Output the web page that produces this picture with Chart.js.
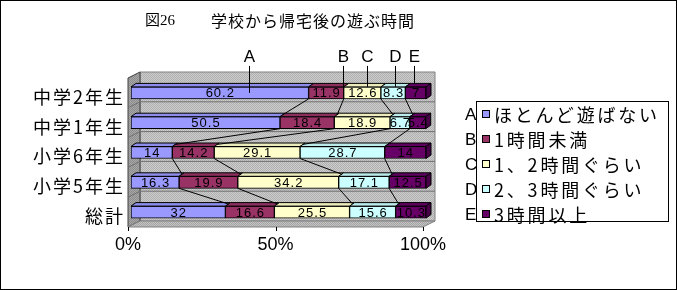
<!DOCTYPE html>
<html>
<head>
<meta charset="utf-8">
<script src="https://cdn.jsdelivr.net/npm/chart.js@4.4.1/dist/chart.umd.min.js"></script>
<style>
    body { margin: 0; background: #fff; }
    #wrap { position: relative; width: 677px; height: 290px; font-family: "Noto Sans CJK JP", sans-serif; color: #000; }
    #chart { position: absolute; left: 0; top: 0; }
    #frame { position: absolute; left: 0; top: 0; width: 677px; height: 290px; box-sizing: border-box; border: 1px solid #000; pointer-events: none; }
    .txt { position: absolute; white-space: nowrap; }
    #figNo { left: 145px; top: 10px; font: 15px/20px "Liberation Serif", "Noto Sans CJK JP"; }
    #title { left: 211px; top: 10px; font-size: 16px; line-height: 20px; letter-spacing: 1px; }
    #legend { position: absolute; left: 476px; top: 101px; width: 193px; height: 121px; box-sizing: border-box; border: 1px solid #000; }
    .item { position: absolute; left: 0; height: 25px; line-height: 25px; font-size: 18px; letter-spacing: 2.8px; white-space: nowrap; }
    .sw { position: absolute; left: 5px; top: 8px; width: 8px; height: 8px; border: 1px solid #000; box-sizing: border-box; }
    .item span { position: absolute; left: 17px; }
    .key { position: absolute; left: 465px; font: 17px/25px "Liberation Sans Narrow", "Liberation Sans", sans-serif; }
</style>
</head>
<body>
<div id="wrap">
    <canvas id="chart" width="677" height="290"></canvas>
    <div class="txt" id="figNo">図26</div>
    <div class="txt" id="title">学校から帰宅後の遊ぶ時間</div>
    <div id="legend"></div>
    <div id="keys"></div>
    <div id="frame"></div>
</div>
<script>
//Data
const categories = ['中学2年生', '中学1年生', '小学6年生', '小学5年生', '総計'];
const seriesNames = ['ほとんど遊ばない', '1時間未満', '1、2時間ぐらい', '2、3時間ぐらい', '3時間以上'];
const seriesKeys = ['A', 'B', 'C', 'D', 'E'];
const seriesColours = ['#9999ff', '#993366', '#ffffcc', '#ccffff', '#660066'];
const noPlay = [60.2, 50.5, 14, 16.3, 32];
const underOne = [11.9, 18.4, 14.2, 19.9, 16.6];
const oneTwo = [12.6, 18.9, 29.1, 34.2, 25.5];
const twoThree = [8.3, 6.7, 28.7, 17.1, 15.6];
const overThree = [7, 5.4, 14, 12.5, 10.3];
const xTicks = [0, 50, 100];

const seriesData = [noPlay, underOne, oneTwo, twoThree, overThree];

//3d look
const wall = {dx: 12, dy: -6};
const depth = {dx: 5, dy: -3.5};
const floorShift = -3;  //front edge of floor sits a bit left of the bars

function dotted(ctx, a, b) {
    let c = document.createElement('canvas');
    c.width = c.height = 2;
    let g = c.getContext('2d');
    g.fillStyle = a;
    g.fillRect(0, 0, 2, 2);
    g.fillStyle = b;
    g.fillRect(0, 0, 1, 1);
    g.fillRect(1, 1, 1, 1);
    return ctx.createPattern(c, 'repeat');
}

function poly(ctx, pts, fill, stroke) {
    ctx.beginPath();
    ctx.moveTo(pts[0][0], pts[0][1]);
    for (let i = 1; i < pts.length; i++) ctx.lineTo(pts[i][0], pts[i][1]);
    ctx.closePath();
    if (fill) { ctx.fillStyle = fill; ctx.fill(); }
    if (stroke) { ctx.strokeStyle = stroke; ctx.lineWidth = 1; ctx.stroke(); }
}

function shade(hex, f) {
    let n = parseInt(hex.slice(1), 16);
    return 'rgb(' + Math.round((n >> 16) * f) + ',' + Math.round(((n >> 8) & 255) * f) + ',' + Math.round((n & 255) * f) + ')';
}

function barBox(bar) {
    return {
        l: Math.min(bar.base, bar.x), r: Math.max(bar.base, bar.x),
        t: bar.y - bar.height / 2, b: bar.y + bar.height / 2
    };
}

const box3d = {
    id: 'box3d',
    beforeDraw(chart) {
        const {ctx, chartArea: a, scales: {x, y}} = chart;
        const fl = x.getPixelForValue(0) + floorShift, fr = x.getPixelForValue(100) + floorShift;
        const ft = a.top, fb = a.bottom;
        ctx.save();
        //back wall
        poly(ctx, [[fl + wall.dx, ft + wall.dy], [fr + wall.dx, ft + wall.dy], [fr + wall.dx, fb + wall.dy], [fl + wall.dx, fb + wall.dy]],
            dotted(ctx, '#cccccc', '#b0b0b0'), '#808080');
        //left wall
        poly(ctx, [[fl, ft], [fl + wall.dx, ft + wall.dy], [fl + wall.dx, fb + wall.dy], [fl, fb]],
            dotted(ctx, '#a8a8a8', '#8c8c8c'), '#404040');
        //floor
        poly(ctx, [[fl, fb], [fl + wall.dx, fb + wall.dy], [fr + wall.dx, fb + wall.dy], [fr, fb]],
            dotted(ctx, '#c4c4c4', '#a4a4a4'), '#808080');
        //category lines on the walls
        ctx.strokeStyle = '#707070';
        ctx.lineWidth = 1;
        for (let k = 1; k < categories.length; k++) {
            let yb = (y.getPixelForValue(k - 1) + y.getPixelForValue(k)) / 2;
            ctx.beginPath();
            ctx.moveTo(fl, yb);
            ctx.lineTo(fl + wall.dx, yb + wall.dy);
            ctx.lineTo(fr + wall.dx, yb + wall.dy);
            ctx.stroke();
        }
        //ticks under the floor
        ctx.strokeStyle = '#000';
        xTicks.forEach(v => {
            let px = Math.round(x.getPixelForValue(v) + floorShift) + 0.5;
            ctx.beginPath();
            ctx.moveTo(px, fb);
            ctx.lineTo(px, fb + 4);
            ctx.stroke();
        });
        ctx.restore();
    },
    afterDatasetsDraw(chart) {
        const ctx = chart.ctx;
        const sets = chart.data.datasets;
        const metas = sets.map((d, i) => chart.getDatasetMeta(i).data);
        ctx.save();
        //top and side faces
        metas.forEach((bars, i) => {
            bars.forEach(bar => {
                let q = barBox(bar);
                poly(ctx, [[q.l, q.t], [q.l + depth.dx, q.t + depth.dy], [q.r + depth.dx, q.t + depth.dy], [q.r, q.t]],
                    shade(sets[i].backgroundColor, 0.92), '#000');
                if (i === sets.length - 1)
                    poly(ctx, [[q.r, q.t], [q.r + depth.dx, q.t + depth.dy], [q.r + depth.dx, q.b + depth.dy], [q.r, q.b]],
                        shade(sets[i].backgroundColor, 0.7), '#000');
            });
        });
        //series lines between neighbouring bars
        ctx.strokeStyle = '#000';
        ctx.lineWidth = 1;
        for (let i = 0; i < sets.length - 1; i++) {
            for (let j = 0; j < categories.length - 1; j++) {
                let up = barBox(metas[i][j]), dn = barBox(metas[i][j + 1]);
                ctx.beginPath();
                ctx.moveTo(up.r, up.b);
                ctx.lineTo(dn.r + depth.dx * 0.6, dn.t + depth.dy * 0.6);
                ctx.stroke();
            }
        }
        //values
        ctx.fillStyle = '#000';
        ctx.font = '13px "Liberation Sans", sans-serif';
        ctx.letterSpacing = '1px';
        ctx.textAlign = 'center';
        ctx.textBaseline = 'middle';
        metas.forEach((bars, i) => {
            bars.forEach((bar, j) => {
                let q = barBox(bar);
                ctx.fillText(String(seriesData[i][j]), (q.l + q.r) / 2 + 0.5, bar.y + 1);
            });
        });
        //A-E pointers above the top bar
        const pointerAt = [40, 72, 80, 89.5, 96];
        const x = chart.scales.x;
        const top = barBox(metas[0][0]);
        ctx.letterSpacing = '0px';
        ctx.font = '17px "Liberation Sans Narrow", "Liberation Sans", sans-serif';
        seriesKeys.forEach((k, i) => {
            let px = Math.round(x.getPixelForValue(pointerAt[i])) + 0.5;
            ctx.fillText(k, px, top.t - 30);
            ctx.beginPath();
            ctx.moveTo(px, top.t - 21);
            ctx.lineTo(px, i === 0 ? metas[0][0].y : (i === 4 ? top.t + depth.dy : top.t));
            ctx.stroke();
        });
        ctx.restore();
    }
};

$legend = document.getElementById('legend');
$keys = document.getElementById('keys');
seriesNames.forEach((name, i) => {
    let row = document.createElement('div');
    row.className = 'item';
    row.style.top = (25 * i) + 'px';
    row.innerHTML = '<div class="sw" style="background:' + seriesColours[i] + '"></div><span>' + name + '</span>';
    $legend.appendChild(row);
    let key = document.createElement('div');
    key.className = 'key';
    key.style.top = (102 + 25 * i) + 'px';
    key.textContent = seriesKeys[i];
    $keys.appendChild(key);
});

Chart.defaults.color = '#000';

new Chart(document.getElementById('chart'), {
    type: 'bar',
    data: {
        labels: categories,
        datasets: seriesData.map((d, i) => ({
            label: seriesNames[i],
            data: d,
            backgroundColor: seriesColours[i],
            borderColor: '#000',
            borderWidth: 1,
            borderSkipped: false,
            barThickness: 12
        }))
    },
    options: {
        indexAxis: 'y',
        responsive: false,
        animation: false,
        layout: {padding: {top: 78, right: 251, bottom: 33, left: 0}},
        plugins: {legend: {display: false}, tooltip: {enabled: false}},
        scales: {
            x: {
                stacked: true,
                min: 0,
                max: 100,
                grid: {display: false, drawTicks: false},
                border: {display: false},
                ticks: {
                    stepSize: 50,
                    padding: 7,
                    labelOffset: floorShift,
                    font: {family: '"Liberation Sans Narrow", "Liberation Sans", sans-serif', size: 18},
                    callback: v => v + '%'
                },
                afterFit: s => { s.height = 30; }
            },
            y: {
                stacked: true,
                grid: {display: false, drawTicks: false},
                border: {display: false},
                ticks: {
                    autoSkip: false,
                    padding: 6,
                    labelOffset: 4,
                    font: {family: '"Noto Sans CJK JP", sans-serif', size: 18}
                },
                afterFit: s => {
                    s.width = 131;
                    //the category names are spaced out a little
                    if (!s._spaced) {
                        const draw = s.drawLabels.bind(s);
                        s.drawLabels = area => {
                            s.ctx.save();
                            s.ctx.letterSpacing = '2px';
                            draw(area);
                            s.ctx.restore();
                        };
                        s._spaced = true;
                    }
                }
            }
        }
    },
    plugins: [box3d]
});
</script>
</body>
</html>
